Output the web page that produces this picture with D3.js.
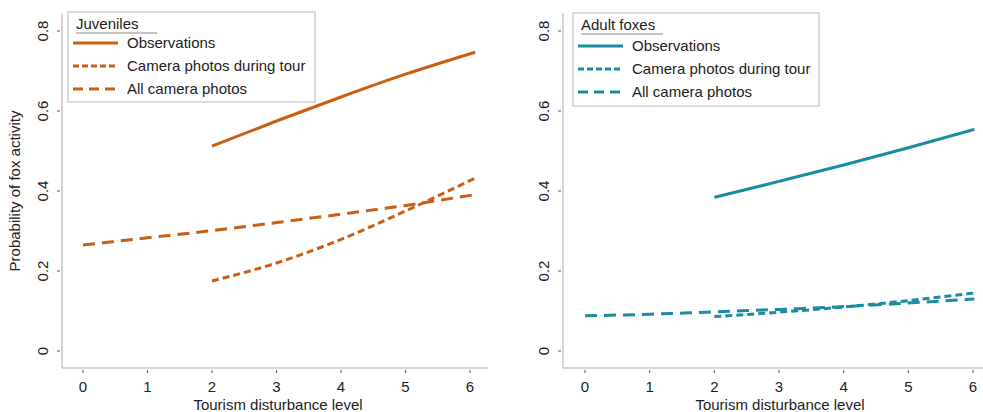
<!DOCTYPE html>
<html>
<head>
<meta charset="utf-8">
<script src="https://cdn.jsdelivr.net/npm/d3@7"></script>
<style>
  html, body { margin: 0; padding: 0; background: #fff; }
  svg { display: block; font-family: "Liberation Sans", Arial, sans-serif; }
</style>
</head>
<body>
<svg id="chart" width="983" height="412"></svg>
<script>
// Predicted probability of fox activity by tourism disturbance level
const seriesNames = ["Observations", "Camera photos during tour", "All camera photos"];

// Juveniles
const juvObsX = [2, 3, 4, 5, 6.08];
const juvObsY = [0.512, 0.575, 0.635, 0.692, 0.747];
const juvTourX = [2, 3, 4, 5, 6.08];
const juvTourY = [0.175, 0.220, 0.279, 0.350, 0.432];
const juvAllX = [0, 1, 2, 3, 4, 5, 6.08];
const juvAllY = [0.265, 0.283, 0.301, 0.321, 0.342, 0.364, 0.391];

// Adult foxes
const adObsX = [2, 3, 4, 5, 6.02];
const adObsY = [0.384, 0.424, 0.465, 0.508, 0.554];
const adTourX = [2, 3, 4, 5, 6.02];
const adTourY = [0.086, 0.097, 0.110, 0.126, 0.145];
const adAllX = [0, 1, 2, 3, 4, 5, 6.02];
const adAllY = [0.088, 0.092, 0.098, 0.104, 0.111, 0.120, 0.130];

const xTicks = [0, 1, 2, 3, 4, 5, 6];
const yTicks = [0, 0.2, 0.4, 0.6, 0.8];
const xTitle = "Tourism disturbance level";
const yTitle = "Probability of fox activity";

const panels = [
  {
    title: "Juveniles", color: "#c95f12",
    axisX: 62, axisRight: 488, x0: 83, x6: 470,
    legend: { x: 68, y: 12, w: 247, h: 90, rowY: [43, 66, 89], titleW: 81 },
    series: [
      { xs: juvObsX, ys: juvObsY },
      { xs: juvTourX, ys: juvTourY },
      { xs: juvAllX, ys: juvAllY }
    ],
    titleX: 278,
    yLabel: true
  },
  {
    title: "Adult foxes", color: "#1b8ca2",
    axisX: 563, axisRight: 983, x0: 585, x6: 973,
    legend: { x: 573, y: 13, w: 246, h: 93, rowY: [46, 69, 92], titleW: 82 },
    series: [
      { xs: adObsX, ys: adObsY },
      { xs: adTourX, ys: adTourY },
      { xs: adAllX, ys: adAllY }
    ],
    titleX: 780,
    yLabel: false
  }
];

// line styles for the three series: solid, short dash, long dash
const dashes = [null, "7,4", "12,7"];
const legendDashes = [null, "6,3", "10,6"];

const svg = d3.select("#chart");
const axisColor = "#c8c8c8";
const textColor = "#222";
const fs = 15;

const y = d3.scaleLinear().domain([0, 0.8]).range([351, 31]);
const yTop = 13, yBottom = 368;

panels.forEach(p => {
  const x = d3.scaleLinear().domain([0, 6]).range([p.x0, p.x6]);
  const g = svg.append("g");

  // axis lines
  g.append("line").attr("x1", p.axisX).attr("x2", p.axisX)
    .attr("y1", yTop).attr("y2", yBottom)
    .attr("stroke", axisColor).attr("stroke-width", 1.5);
  g.append("line").attr("x1", p.axisX).attr("x2", p.axisRight)
    .attr("y1", yBottom).attr("y2", yBottom)
    .attr("stroke", axisColor).attr("stroke-width", 1.5);

  // y ticks and rotated labels
  yTicks.forEach(t => {
    g.append("line").attr("x1", p.axisX - 5).attr("x2", p.axisX - 2)
      .attr("y1", y(t)).attr("y2", y(t))
      .attr("stroke", "#555").attr("stroke-width", 1);
    g.append("text")
      .attr("transform", `translate(${p.axisX - 14},${y(t)}) rotate(-90)`)
      .attr("text-anchor", "middle")
      .attr("font-size", fs).attr("fill", textColor)
      .text(t === 0 ? "0" : d3.format(".1f")(t));
  });

  // x ticks and labels
  xTicks.forEach(t => {
    g.append("line").attr("x1", x(t)).attr("x2", x(t))
      .attr("y1", yBottom + 2).attr("y2", yBottom + 5)
      .attr("stroke", "#555").attr("stroke-width", 1);
    g.append("text").attr("x", x(t)).attr("y", yBottom + 24)
      .attr("text-anchor", "middle")
      .attr("font-size", fs).attr("fill", textColor)
      .text(t);
  });

  // x axis title
  g.append("text").attr("x", p.titleX)
    .attr("y", 410).attr("text-anchor", "middle")
    .attr("font-size", fs).attr("fill", textColor).text(xTitle);

  if (p.yLabel) {
    g.append("text")
      .attr("transform", `translate(20,191) rotate(-90)`)
      .attr("text-anchor", "middle")
      .attr("font-size", fs).attr("fill", textColor).text(yTitle);
  }

  // series lines
  const line = d3.line().x(d => x(d[0])).y(d => y(d[1])).curve(d3.curveMonotoneX);
  p.series.forEach((s, i) => {
    const pts = s.xs.map((v, k) => [v, s.ys[k]]);
    g.append("path").datum(pts)
      .attr("d", line)
      .attr("fill", "none")
      .attr("stroke", p.color)
      .attr("stroke-width", 3)
      .attr("stroke-dasharray", dashes[i]);
  });

  // legend
  const L = p.legend;
  const lg = g.append("g");
  lg.append("rect").attr("x", L.x).attr("y", L.y).attr("width", L.w).attr("height", L.h)
    .attr("fill", "#fff").attr("stroke", "#cfcfcf").attr("stroke-width", 1.5);
  lg.append("text").attr("x", L.x + 8).attr("y", L.y + 17)
    .attr("font-size", fs).attr("fill", textColor).text(p.title);
  lg.append("line").attr("x1", L.x + 8).attr("x2", L.x + 8 + L.titleW)
    .attr("y1", L.y + 21).attr("y2", L.y + 21)
    .attr("stroke", "#888").attr("stroke-width", 1);
  seriesNames.forEach((name, i) => {
    const ry = L.rowY[i];
    lg.append("line").attr("x1", L.x + 5).attr("x2", L.x + 50)
      .attr("y1", ry).attr("y2", ry)
      .attr("stroke", p.color).attr("stroke-width", 3)
      .attr("stroke-dasharray", legendDashes[i]);
    lg.append("text").attr("x", L.x + 59).attr("y", ry + 5)
      .attr("font-size", fs).attr("fill", textColor).text(name);
  });
});
</script>
</body>
</html>
